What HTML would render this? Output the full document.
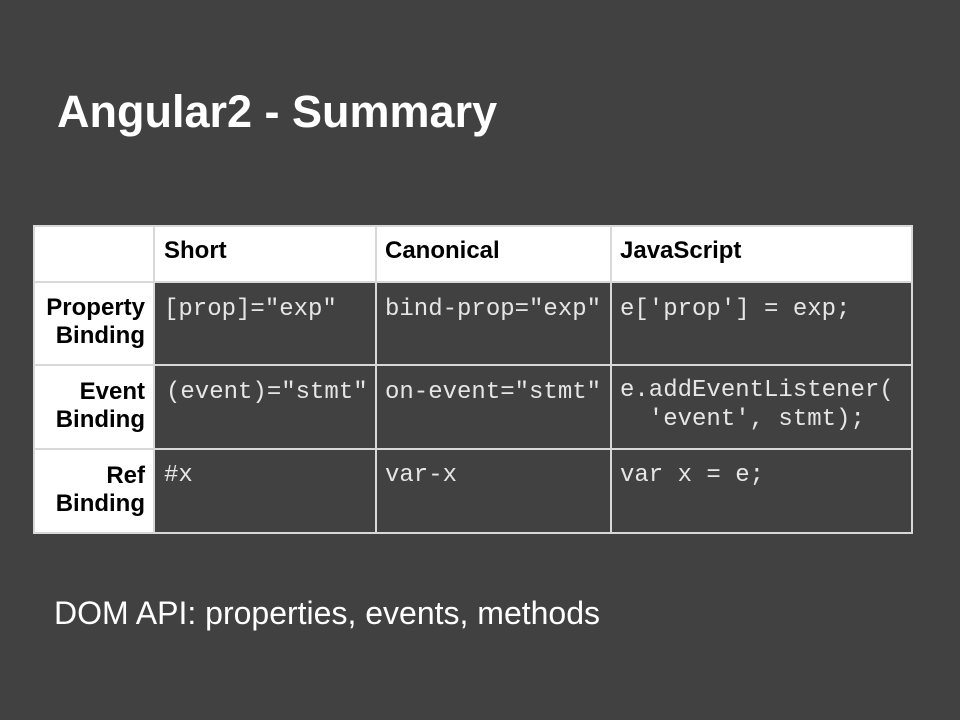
<!DOCTYPE html>
<html><head><style>
body{margin:0;width:960px;height:720px;background:#414141;position:relative;overflow:hidden;font-family:"Liberation Sans",sans-serif}
.a{position:absolute}
h1{position:absolute;left:57px;top:86px;margin:0;font-size:45px;font-weight:bold;color:#fff}
.c{position:absolute;box-sizing:border-box}
.w{background:#fff;color:#000;font-weight:bold;font-size:24px}
.m{font-family:"Liberation Mono",monospace;color:#e6e6e6;font-size:24px;white-space:pre}
.hl{position:absolute;background:#d8d8d8}
.hd{font-weight:bold;font-size:24px;top:237px}
.lb{left:33px;width:112px;text-align:right;font-weight:bold;font-size:24px;line-height:28px}
</style></head><body>
<h1>Angular2 - Summary</h1>
<div class="c w" style="left:33px;top:226px;width:880px;height:56px"></div>
<div class="c w" style="left:33px;top:282px;width:121px;height:251px"></div>
<div class="a hd" style="left:164px">Short</div>
<div class="a hd" style="left:385px">Canonical</div>
<div class="a hd" style="left:620px">JavaScript</div>
<div class="a lb" style="top:294px">Property<br>Binding</div>
<div class="a lb" style="top:378px">Event<br>Binding</div>
<div class="a lb" style="top:462px">Ref<br>Binding</div>
<div class="a m" style="left:164px;top:296px">[prop]="exp"</div>
<div class="a m" style="left:385px;top:296px">bind-prop="exp"</div>
<div class="a m" style="left:620px;top:296px">e['prop'] = exp;</div>
<div class="a m" style="left:166px;top:379px">(event)="stmt"</div>
<div class="a m" style="left:385px;top:379px">on-event="stmt"</div>
<div class="a m" style="left:620px;top:376px;line-height:29px">e.addEventListener(
  'event', stmt);</div>
<div class="a m" style="left:164px;top:462px">#x</div>
<div class="a m" style="left:385px;top:462px">var-x</div>
<div class="a m" style="left:620px;top:462px">var x = e;</div>
<div class="hl" style="left:33px;top:225px;width:880px;height:2px"></div>
<div class="hl" style="left:33px;top:281px;width:880px;height:2px"></div>
<div class="hl" style="left:33px;top:364px;width:880px;height:2px"></div>
<div class="hl" style="left:33px;top:448px;width:880px;height:2px"></div>
<div class="hl" style="left:33px;top:532px;width:880px;height:2px"></div>
<div class="hl" style="left:33px;top:225px;width:2px;height:309px"></div>
<div class="hl" style="left:153px;top:225px;width:2px;height:309px"></div>
<div class="hl" style="left:375px;top:225px;width:2px;height:309px"></div>
<div class="hl" style="left:610px;top:225px;width:2px;height:309px"></div>
<div class="hl" style="left:911px;top:225px;width:2px;height:309px"></div>
<div class="a" style="left:54px;top:595px;font-size:32px;color:#fff">DOM API: properties, events, methods</div>
</body></html>
